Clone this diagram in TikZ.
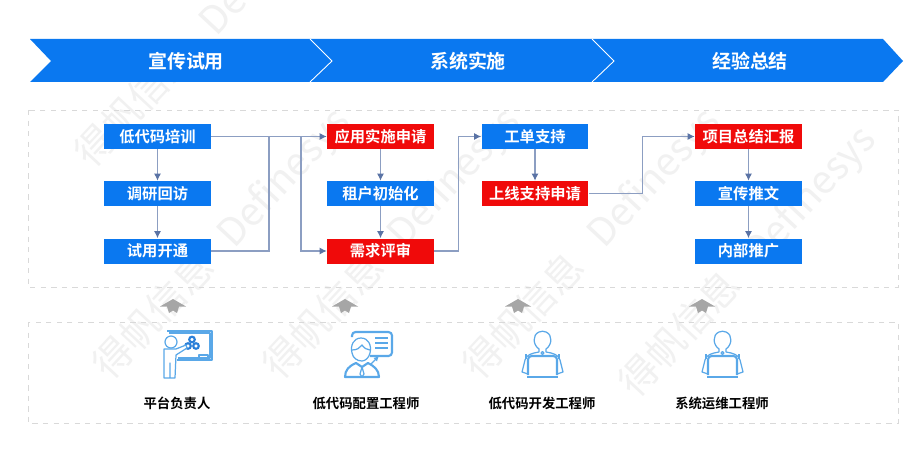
\documentclass[tikz,border=0pt]{standalone}
\usepackage{fontspec}
\usepackage{tikz}
\usetikzlibrary{arrows.meta}
\setmainfont{Noto Sans CJK SC}[BoldFont={Noto Sans CJK SC Bold}]
\definecolor{headblue}{HTML}{0A78F0}
\definecolor{boxred}{HTML}{F00A0A}
\definecolor{linkgrey}{HTML}{8C9EC2}
\definecolor{tipgrey}{HTML}{5A73A5}
\definecolor{framegrey}{HTML}{D9D9D9}
\definecolor{roofgrey}{HTML}{A6A6A6}
\definecolor{iconblue}{HTML}{5AA8E8}
\definecolor{hexblue}{HTML}{2A7FD8}
\definecolor{markgrey}{HTML}{F1F1F1}
\tikzset{
  taskbox/.style={draw=none,fill=headblue,text=white,font=\fontsize{8.7}{10}\selectfont\bfseries,minimum width=2.14cm,minimum height=0.5cm,inner sep=0pt},
  hotbox/.style={taskbox,fill=boxred},
  headlabel/.style={text=white,font=\fontsize{10.8}{12}\selectfont\bfseries,inner sep=0pt},
  rolelabel/.style={text=black,font=\fontsize{7.6}{9}\selectfont\bfseries,inner sep=0pt},
  watermark/.style={text=markgrey,font=\fontsize{22}{24}\selectfont,rotate=47,anchor=west,inner sep=0pt},
  frame/.style={draw=framegrey,dashed,line width=0.5pt},
  link/.style={draw=linkgrey,line width=0.6pt},
  linkarrow/.style={link,-{Latex[length=4pt,width=4pt,color=tipgrey]}},
  roof/.style={fill=roofgrey,draw=none},
  iconline/.style={draw=iconblue,line width=0.7pt,line join=round},
  iconthick/.style={iconline,line width=1.2pt}
}
\begin{document}
\begin{tikzpicture}[x=0.02cm,y=-0.02cm]
\useasboundingbox (0,0) rectangle (922,456);
\fill[white] (0,0) rectangle (922,456);
% watermark
\node[watermark] at (84,162) {得帆信息~~~Definesys};
\node[watermark] at (102,374) {得帆信息~~~Definesys};
\node[watermark] at (272,374) {得帆信息~~~Definesys};
\node[watermark] at (472,374) {得帆信息~~~Definesys};
\node[watermark] at (628,392) {得帆信息~~~Definesys};
% header band
\fill[headblue] (30,39) -- (310,39) -- (332,61) -- (310,82) -- (30,82) -- (51,61) -- cycle;
\fill[headblue] (310,39) -- (592,39) -- (614,61) -- (592,82) -- (310,82) -- (332,61) -- cycle;
\fill[headblue] (592,39) -- (883,39) -- (903,61) -- (883,82) -- (592,82) -- (614,61) -- cycle;
\draw[white,line width=0.5pt] (310,39) -- (332,61) -- (310,82);
\draw[white,line width=0.5pt] (592,39) -- (614,61) -- (592,82);
\node[headlabel] (head1) at (186,61) {宣传试用};
\node[headlabel] (head2) at (468,61) {系统实施};
\node[headlabel] (head3) at (750,61) {经验总结};
% frames
\draw[frame] (28,110) rectangle (898,287);
\draw[frame] (28,322) rectangle (898,423);
% tasks
\node[taskbox] (train) at (157.5,136.5) {低代码培训};
\node[taskbox] (visit) at (157.5,193.5) {调研回访};
\node[taskbox] (trial) at (157.5,251) {试用开通};
\node[hotbox] (apply) at (380.5,136.5) {应用实施申请};
\node[taskbox] (tenant) at (380.5,193.5) {租户初始化};
\node[hotbox] (review) at (380.5,251) {需求评审};
\node[taskbox] (ticket) at (535,136.5) {工单支持};
\node[hotbox] (golive) at (535,193.5) {上线支持申请};
\node[hotbox] (report) at (748.5,136.5) {项目总结汇报};
\node[taskbox] (promo) at (748.5,193.5) {宣传推文};
\node[taskbox] (spread) at (748.5,251) {内部推广};
% links
\coordinate (joinA) at (269,136.5);
\coordinate (joinB) at (301,136.5);
\draw[linkarrow] (train) -- (visit);
\draw[linkarrow] (visit) -- (trial);
\draw[linkarrow] (apply) -- (tenant);
\draw[linkarrow] (tenant) -- (review);
\draw[linkarrow] (ticket) -- (golive);
\draw[linkarrow] (report) -- (promo);
\draw[linkarrow] (promo) -- (spread);
\draw[linkarrow] (train) -- (apply);
\draw[link] (trial) -| (joinA);
\draw[linkarrow] (joinB) |- (review);
\draw[linkarrow] (review.east) -- ++(24,0) |- (ticket.west);
\draw[linkarrow] (golive.east) -- ++(54,0) |- (report.west);
% roofs
\foreach \px/\nm in {173/r1,345/r2,518/r3,702/r4}{
  \fill[roof] (\px,299) -- (\px+13,306.5) -- (\px+6,306.5) -- (\px+4,313) -- (\px,310.5) -- (\px-4,313) -- (\px-6,306.5) -- (\px-13,306.5) -- cycle;
}
% board icon
\begin{scope}[shift={(150,325)}]
\draw[iconline] (17,6) -- (62,6) -- (62,35) -- (27,35);
\draw[iconthick] (19,8) -- (60,8) -- (60,33) -- (28,33);
\draw[iconline] (49,30) rectangle (58,33);
\draw[hexblue,line width=1.2pt] (38,21) circle (2.8);
\draw[hexblue,line width=1.2pt] (46,21) circle (2.8);
\draw[hexblue,line width=1.2pt] (42,14.5) circle (2.8);
\draw[iconline,fill=white] (21,17) circle (6);
\draw[iconline,fill=white] (14,24) -- (26,24) -- (36,20) -- (37,23) -- (26,30) -- (25,53) -- (20,53) -- (20,38) -- (20,53) -- (14,53) -- cycle;
\end{scope}
% consultant icon
\begin{scope}[shift={(335,325)}]
\draw[iconthick,rounded corners=2pt] (17,12) -- (17,7) -- (57,7) -- (57,31) -- (35,31);
\draw[iconthick] (40,13) -- (53,13) (40,18) -- (53,18) (40,23) -- (53,23);
\draw[iconline,fill=white] (26,13) .. controls (33,13) and (37,20) .. (35,28) .. controls (34,33) and (30,36) .. (27,36) .. controls (22,36) and (18,33) .. (17,28) .. controls (15,20) and (19,13) .. (26,13) -- cycle;
\draw[iconline] (17,25) .. controls (22,25) and (25,23) .. (27,20) .. controls (29,23) and (32,25) .. (35,25);
\draw[iconthick] (10,52) .. controls (10,45) and (14,41) .. (21,38) -- (27,42) -- (33,38) .. controls (39,41) and (44,45) .. (44,52) -- cycle;
\draw[iconline] (27,42) -- (25,49) -- (27,52) -- (29,49) -- cycle;
\draw[iconline,-{Latex[length=3pt,width=3pt]}] (36,39) -- (44,31);
\end{scope}
% developer icons
\foreach \px/\nm in {510/d1,690/d2}{
\begin{scope}[shift={(\px,325)}]
\draw[iconline] (29,24) .. controls (23,20) and (22,10) .. (29,7) .. controls (31,6) and (34,6) .. (36,7) .. controls (43,10) and (42,20) .. (36,24) -- (36,27) .. controls (43,28) and (49,30) .. (50,35) -- (53,47) -- (47,49) -- (18,49) -- (12,47) -- (15,35) .. controls (16,30) and (22,28) .. (29,27) -- cycle;
\fill[white] (19,33) rectangle (46,51);
\draw[iconthick,rounded corners=2pt] (18,50) -- (18,31) -- (47,31) -- (47,50);
\draw[iconline] (16,34) -- (16,28.5) (49,34) -- (49,28.5);
\draw[iconthick] (17,52) -- (48,52);
\draw[iconline] (32.5,28) circle (1.5);
\end{scope}
}
% roles
\node[rolelabel] (lead) at (177,403) {平台负责人};
\node[rolelabel] (config) at (366,403) {低代码配置工程师};
\node[rolelabel] (dev) at (542,403) {低代码开发工程师};
\node[rolelabel] (ops) at (722,403) {系统运维工程师};
\end{tikzpicture}
\end{document}
